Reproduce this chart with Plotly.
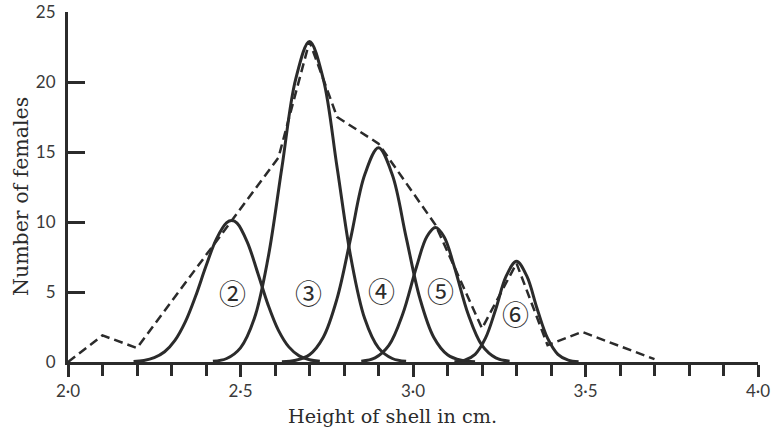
import plotly.graph_objects as go

# Observed frequencies (dashed polygon)
obs_x = [2.0, 2.1, 2.2, 2.61, 2.70, 2.78, 2.90, 3.065, 3.20, 3.30, 3.39, 3.49, 3.70]
obs_y = [0.0, 1.9, 1.0, 14.6, 22.9, 17.5, 15.6, 9.8, 2.4, 7.05, 1.2, 2.15, 0.2]

# Fitted component curves
c2_x = [2.19, 2.22, 2.25, 2.28, 2.31, 2.34, 2.37, 2.40, 2.43, 2.46, 2.475, 2.49, 2.52, 2.55, 2.58, 2.61, 2.64, 2.67, 2.70, 2.73]
c2_y = [0.04, 0.11, 0.31, 0.73, 1.54, 2.86, 4.71, 6.85, 8.78, 9.95, 10.1, 9.92, 8.55, 6.36, 4.08, 2.26, 1.08, 0.44, 0.16, 0.05]

c3_x = [2.42, 2.46, 2.50, 2.54, 2.58, 2.62, 2.66, 2.70, 2.74, 2.78, 2.82, 2.86, 2.90, 2.94, 2.98]
c3_y = [0.05, 0.25, 1.01, 3.10, 7.44, 13.89, 20.21, 22.9, 20.21, 13.89, 7.44, 3.10, 1.01, 0.25, 0.05]

c4_x = [2.62, 2.66, 2.70, 2.74, 2.78, 2.82, 2.86, 2.90, 2.94, 2.98, 3.02, 3.06, 3.10, 3.14, 3.18]
c4_y = [0.02, 0.12, 0.52, 1.77, 4.54, 8.92, 13.37, 15.3, 13.37, 8.92, 4.54, 1.77, 0.52, 0.12, 0.02]

c5_x = [2.85, 2.89, 2.93, 2.97, 3.01, 3.04, 3.065, 3.09, 3.12, 3.16, 3.20, 3.24, 3.28]
c5_y = [0.05, 0.29, 1.18, 3.41, 6.79, 8.94, 9.6, 8.94, 6.79, 3.41, 1.18, 0.29, 0.05]

c6_x = [3.12, 3.15, 3.18, 3.21, 3.24, 3.27, 3.30, 3.33, 3.36, 3.39, 3.42, 3.45, 3.48]
c6_y = [0.02, 0.13, 0.55, 1.70, 3.79, 6.13, 7.2, 6.13, 3.79, 1.70, 0.55, 0.13, 0.02]

# Labels of components
label_text = ["②", "③", "④", "⑤", "⑥"]
label_x = [2.478, 2.696, 2.91, 3.08, 3.296]
label_y = [5.0, 5.0, 5.1, 5.1, 3.5]

# Axis ticks
x_tickvals = [2.0, 2.5, 3.0, 3.5, 4.0]
x_ticktext = ["2·0", "2·5", "3·0", "3·5", "4·0"]
y_tickvals = [0, 5, 10, 15, 20, 25]

INK = "#2b2b2b"

fig = go.Figure()
for cx, cy in [(c2_x, c2_y), (c3_x, c3_y), (c4_x, c4_y), (c5_x, c5_y), (c6_x, c6_y)]:
    fig.add_trace(go.Scatter(x=cx, y=cy, mode="lines",
                             line=dict(color=INK, width=3, shape="spline", smoothing=1.0),
                             showlegend=False, hoverinfo="skip"))

fig.add_trace(go.Scatter(x=obs_x, y=obs_y, mode="lines",
                         line=dict(color=INK, width=2.5, dash="9px,5px"),
                         showlegend=False, hoverinfo="skip"))

for t, lx, ly in zip(label_text, label_x, label_y):
    fig.add_annotation(x=lx, y=ly, text=t, showarrow=False,
                       font=dict(family="Noto Sans CJK JP", size=27, color=INK))

fig.add_annotation(xref="paper", yref="paper", x=(392 - 68) / 690, y=-(417 - 362) / 350,
                   text="Height of shell in cm.", showarrow=False,
                   xanchor="center", yanchor="middle",
                   font=dict(family="DejaVu Serif", size=19.2, color=INK))
fig.add_annotation(xref="paper", yref="paper", x=-(68 - 21) / 690, y=(362 - 197) / 350,
                   text="Number of females", showarrow=False, textangle=-90,
                   xanchor="center", yanchor="middle",
                   font=dict(family="DejaVu Serif", size=20.5, color=INK))

fig.update_layout(
    width=773, height=432,
    margin=dict(l=68, r=15, t=12, b=70, autoexpand=False),
    paper_bgcolor="white", plot_bgcolor="white",
    xaxis=dict(range=[2.0, 4.0], tickvals=x_tickvals, ticktext=x_ticktext, automargin=False,
               showgrid=False, zeroline=False, showline=True, linecolor=INK, linewidth=3,
               ticks="outside", ticklen=12, tickwidth=2.5, tickcolor=INK,
               minor=dict(dtick=0.1, tick0=2.0, ticks="outside", ticklen=11, tickwidth=2.5, tickcolor=INK),
               tickfont=dict(family="Lato", size=17, color="#3a3a3a"),
               ticklabelstandoff=0),
    yaxis=dict(range=[0, 25], tickvals=y_tickvals, automargin=False,
               showgrid=False, zeroline=False, showline=True, linecolor=INK, linewidth=3,
               ticks="inside", ticklen=17, tickwidth=2.5, tickcolor=INK,
               tickfont=dict(family="Lato", size=17, color="#3a3a3a"),
               ticklabelstandoff=6),
)

fig.write_html("out.html")
